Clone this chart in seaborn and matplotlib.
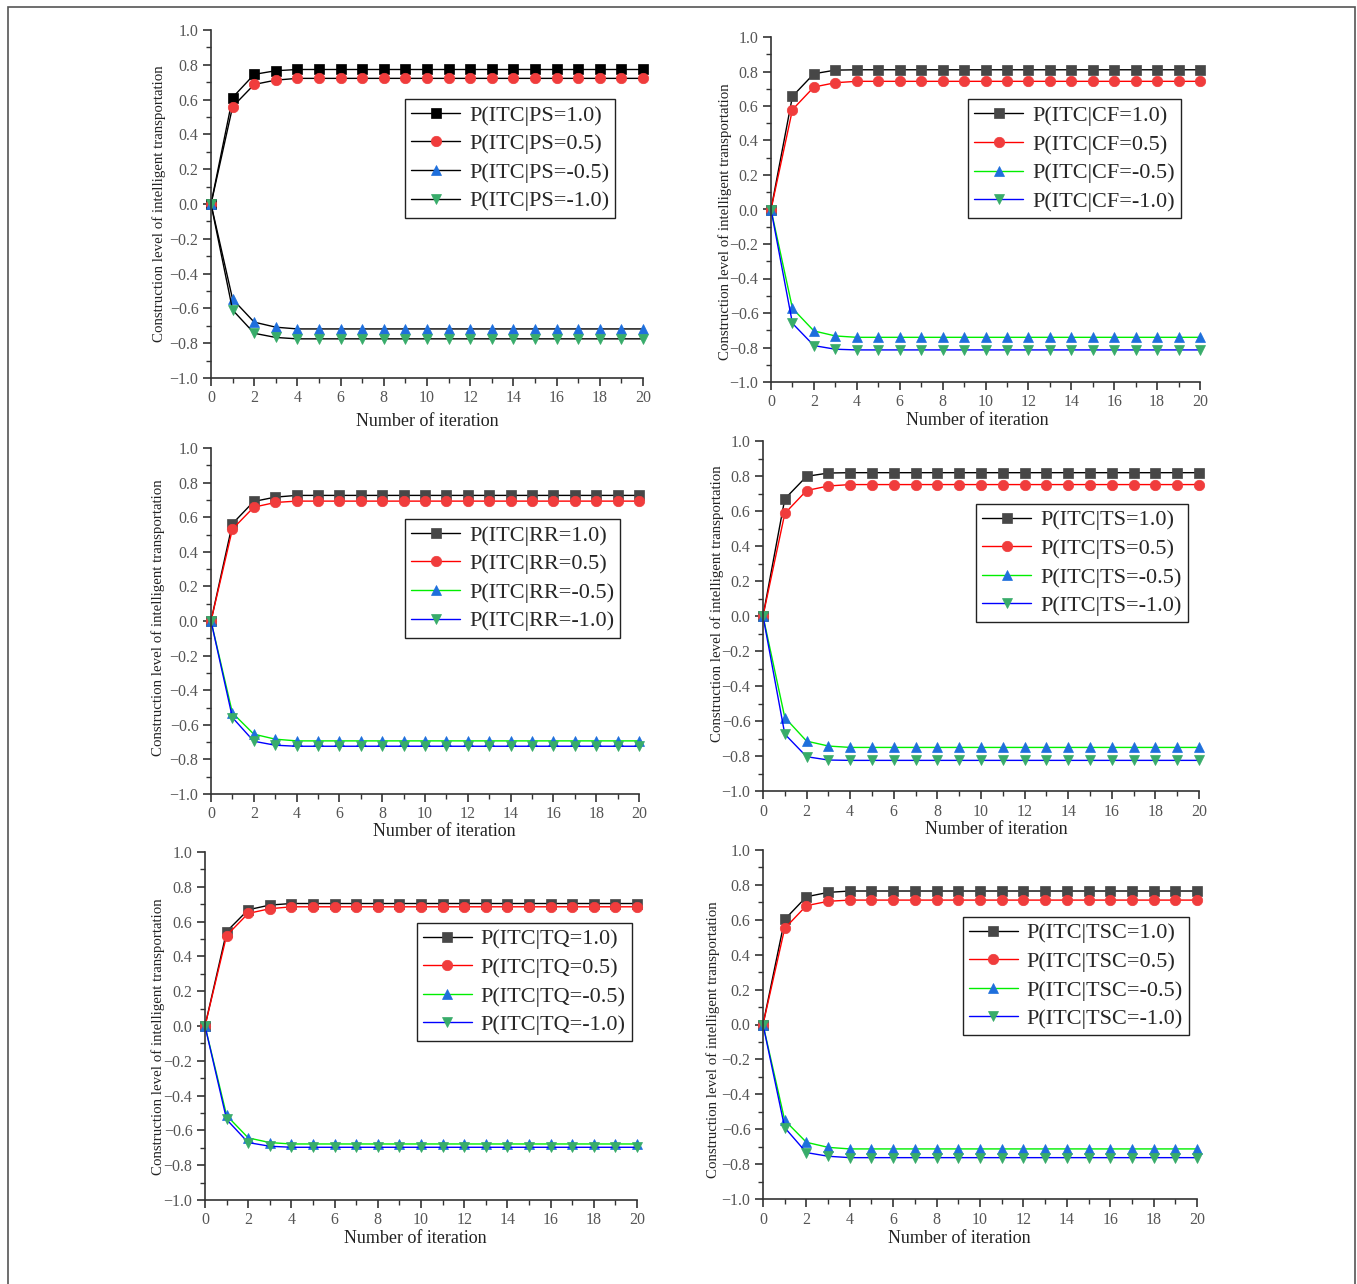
import matplotlib
matplotlib.use("Agg")
import matplotlib.pyplot as plt
import seaborn as sns
import numpy as np
from matplotlib.ticker import MultipleLocator
from matplotlib.patches import Rectangle

iterations = list(range(21))
levels = ['1.0', '0.5', '-0.5', '-1.0']

# PS
ps_p10 = [0, 0.612, 0.745, 0.766, 0.773, 0.773, 0.773, 0.773, 0.773, 0.773, 0.773,
          0.773, 0.773, 0.773, 0.773, 0.773, 0.773, 0.773, 0.773, 0.773, 0.773]
ps_p05 = [0, 0.559, 0.687, 0.712, 0.722, 0.722, 0.722, 0.722, 0.722, 0.722, 0.722,
          0.722, 0.722, 0.722, 0.722, 0.722, 0.722, 0.722, 0.722, 0.722, 0.722]
ps_n05 = [0, -0.547, -0.679, -0.708, -0.718, -0.718, -0.718, -0.718, -0.718, -0.718, -0.718,
          -0.718, -0.718, -0.718, -0.718, -0.718, -0.718, -0.718, -0.718, -0.718, -0.718]
ps_n10 = [0, -0.609, -0.743, -0.767, -0.775, -0.775, -0.775, -0.775, -0.775, -0.775, -0.775,
          -0.775, -0.775, -0.775, -0.775, -0.775, -0.775, -0.775, -0.775, -0.775, -0.775]

# CF
cf_p10 = [0, 0.656, 0.787, 0.808, 0.810, 0.810, 0.810, 0.810, 0.810, 0.810, 0.810,
          0.810, 0.810, 0.810, 0.810, 0.810, 0.810, 0.810, 0.810, 0.810, 0.810]
cf_p05 = [0, 0.579, 0.710, 0.735, 0.743, 0.743, 0.743, 0.743, 0.743, 0.743, 0.743,
          0.743, 0.743, 0.743, 0.743, 0.743, 0.743, 0.743, 0.743, 0.743, 0.743]
cf_n05 = [0, -0.573, -0.704, -0.733, -0.741, -0.741, -0.741, -0.741, -0.741, -0.741, -0.741,
          -0.741, -0.741, -0.741, -0.741, -0.741, -0.741, -0.741, -0.741, -0.741, -0.741]
cf_n10 = [0, -0.660, -0.789, -0.810, -0.814, -0.814, -0.814, -0.814, -0.814, -0.814, -0.814,
          -0.814, -0.814, -0.814, -0.814, -0.814, -0.814, -0.814, -0.814, -0.814, -0.814]

# RR
rr_p10 = [0, 0.562, 0.691, 0.716, 0.726, 0.726, 0.726, 0.726, 0.726, 0.726, 0.726,
          0.726, 0.726, 0.726, 0.726, 0.726, 0.726, 0.726, 0.726, 0.726, 0.726]
rr_p05 = [0, 0.531, 0.658, 0.685, 0.693, 0.693, 0.693, 0.693, 0.693, 0.693, 0.693,
          0.693, 0.693, 0.693, 0.693, 0.693, 0.693, 0.693, 0.693, 0.693, 0.693]
rr_n05 = [0, -0.531, -0.654, -0.683, -0.693, -0.693, -0.693, -0.693, -0.693, -0.693, -0.693,
          -0.693, -0.693, -0.693, -0.693, -0.693, -0.693, -0.693, -0.693, -0.693, -0.693]
rr_n10 = [0, -0.558, -0.695, -0.718, -0.724, -0.724, -0.724, -0.724, -0.724, -0.724, -0.724,
          -0.724, -0.724, -0.724, -0.724, -0.724, -0.724, -0.724, -0.724, -0.724, -0.724]

# TS
ts_p10 = [0, 0.669, 0.798, 0.817, 0.819, 0.819, 0.819, 0.819, 0.819, 0.819, 0.819,
          0.819, 0.819, 0.819, 0.819, 0.819, 0.819, 0.819, 0.819, 0.819, 0.819]
ts_p05 = [0, 0.586, 0.717, 0.743, 0.751, 0.751, 0.751, 0.751, 0.751, 0.751, 0.751,
          0.751, 0.751, 0.751, 0.751, 0.751, 0.751, 0.751, 0.751, 0.751, 0.751]
ts_n05 = [0, -0.580, -0.715, -0.743, -0.751, -0.751, -0.751, -0.751, -0.751, -0.751, -0.751,
          -0.751, -0.751, -0.751, -0.751, -0.751, -0.751, -0.751, -0.751, -0.751, -0.751]
ts_n10 = [0, -0.675, -0.804, -0.823, -0.825, -0.825, -0.825, -0.825, -0.825, -0.825, -0.825,
          -0.825, -0.825, -0.825, -0.825, -0.825, -0.825, -0.825, -0.825, -0.825, -0.825]

# TQ
tq_p10 = [0, 0.543, 0.668, 0.695, 0.704, 0.704, 0.704, 0.704, 0.704, 0.704, 0.704,
          0.704, 0.704, 0.704, 0.704, 0.704, 0.704, 0.704, 0.704, 0.704, 0.704]
tq_p05 = [0, 0.520, 0.647, 0.674, 0.685, 0.685, 0.685, 0.685, 0.685, 0.685, 0.685,
          0.685, 0.685, 0.685, 0.685, 0.685, 0.685, 0.685, 0.685, 0.685, 0.685]
tq_n05 = [0, -0.514, -0.643, -0.670, -0.678, -0.678, -0.678, -0.678, -0.678, -0.678, -0.678,
          -0.678, -0.678, -0.678, -0.678, -0.678, -0.678, -0.678, -0.678, -0.678, -0.678]
tq_n10 = [0, -0.537, -0.670, -0.691, -0.697, -0.697, -0.697, -0.697, -0.697, -0.697, -0.697,
          -0.697, -0.697, -0.697, -0.697, -0.697, -0.697, -0.697, -0.697, -0.697, -0.697]

# TSC
tsc_p10 = [0, 0.602, 0.732, 0.757, 0.765, 0.765, 0.765, 0.765, 0.765, 0.765, 0.765,
           0.765, 0.765, 0.765, 0.765, 0.765, 0.765, 0.765, 0.765, 0.765, 0.765]
tsc_p05 = [0, 0.551, 0.681, 0.706, 0.713, 0.713, 0.713, 0.713, 0.713, 0.713, 0.713,
           0.713, 0.713, 0.713, 0.713, 0.713, 0.713, 0.713, 0.713, 0.713, 0.713]
tsc_n05 = [0, -0.549, -0.675, -0.704, -0.713, -0.713, -0.713, -0.713, -0.713, -0.713, -0.713,
           -0.713, -0.713, -0.713, -0.713, -0.713, -0.713, -0.713, -0.713, -0.713, -0.713]
tsc_n10 = [0, -0.591, -0.734, -0.755, -0.763, -0.763, -0.763, -0.763, -0.763, -0.763, -0.763,
           -0.763, -0.763, -0.763, -0.763, -0.763, -0.763, -0.763, -0.763, -0.763, -0.763]

markers = ['s', 'o', '^', 'v']
marker_colors = ['#474747', '#F03C3C', '#1E6FDC', '#38AC6A']
line_colors = ['black', '#FF0000', '#00EE00', '#0000FF']

W, H = 1357, 1284

# factor, series, axes box in px (left, top, right, bottom), legend anchor, xlabel pos, ylabel pos
panels = [
    ('PS', [ps_p10, ps_p05, ps_n05, ps_n10], (211, 30, 643, 378), (0.449, 0.802), (0.50, -0.126), (-0.120, 0.50)),
    ('CF', [cf_p10, cf_p05, cf_n05, cf_n10], (771, 37, 1200, 382), (0.459, 0.819), (0.48, -0.113), (-0.107, 0.464)),
    ('RR', [rr_p10, rr_p05, rr_n05, rr_n10], (211, 448, 639, 794), (0.453, 0.795), (0.545, -0.107), (-0.123, 0.51)),
    ('TS', [ts_p10, ts_p05, ts_n05, ts_n10], (763, 441, 1199, 791), (0.489, 0.821), (0.534, -0.110), (-0.106, 0.534)),
    ('TQ', [tq_p10, tq_p05, tq_n05, tq_n10], (205, 852, 637, 1200), (0.490, 0.797), (0.486, -0.111), (-0.108, 0.47)),
    ('TSC', [tsc_p10, tsc_p05, tsc_n05, tsc_n10], (763, 850, 1197, 1199), (0.460, 0.809), (0.452, -0.113), (-0.116, 0.457)),
]

sns.set_style('ticks')
plt.rcParams['font.family'] = ['Liberation Serif', 'DejaVu Serif']
plt.rcParams['axes.unicode_minus'] = True

fig = plt.figure(figsize=(W / 100, H / 100), dpi=100)

for k, (factor, series, box, leg_xy, xl_xy, yl_xy) in enumerate(panels):
    l, t, r, b = box
    ax = fig.add_axes([l / W, 1 - b / H, (r - l) / W, (b - t) / H])
    for i, (lev, vals) in enumerate(zip(levels, series)):
        lc = 'black' if factor == 'PS' else line_colors[i]
        mc = 'black' if (factor == 'PS' and i == 0) else marker_colors[i]
        sns.lineplot(x=iterations, y=vals, ax=ax, color=lc, linewidth=1.0,
                     marker=markers[i], markersize=7.5 if markers[i] != 's' else 6.5,
                     markerfacecolor=mc, markeredgecolor=mc, markeredgewidth=0.5,
                     label=f'P(ITC|{factor}={lev})', clip_on=False)
    ax.set_xlim(0, 20)
    ax.set_ylim(-1.0, 1.0)
    ax.xaxis.set_major_locator(MultipleLocator(2))
    ax.xaxis.set_minor_locator(MultipleLocator(1))
    ax.yaxis.set_major_locator(MultipleLocator(0.2))
    ax.yaxis.set_minor_locator(MultipleLocator(0.1))
    ax.yaxis.set_major_formatter(matplotlib.ticker.FuncFormatter(
        lambda v, p: f'{v:.1f}'.replace('-', '\u2212')))
    sns.despine(ax=ax)
    for s in ['left', 'bottom']:
        ax.spines[s].set_color('#333333')
        ax.spines[s].set_linewidth(1.2)
    ax.tick_params(which='major', direction='out', length=6, width=1.2,
                   color='#333333', labelcolor='#555555', labelsize=11.5, pad=3)
    ax.tick_params(which='minor', direction='out', length=3.5, width=1.0, color='#333333')
    ax.set_xlabel('Number of iteration', fontsize=13, color='#222222')
    ax.set_ylabel('Construction level of intelligent transportation', fontsize=10.7, color='#222222')
    ax.xaxis.set_label_coords(*xl_xy)
    ax.xaxis.label.set_va('center')
    ax.yaxis.set_label_coords(*yl_xy)
    ax.yaxis.label.set_va('center')
    leg = ax.legend(loc='upper left', bbox_to_anchor=leg_xy, borderaxespad=0, fontsize=16,
                    frameon=True, fancybox=False, edgecolor='#222222', framealpha=1,
                    handlelength=2.2, handletextpad=0.4, labelspacing=0.36, borderpad=0.28)
    leg.get_frame().set_linewidth(1.0)

fig.patches.append(Rectangle((8 / W, -0.01), (1355 - 8) / W, 1.01 - 6.5 / H,
                             transform=fig.transFigure, fill=False,
                             edgecolor='#555555', linewidth=1.2))

fig.savefig('out.png', dpi=100)
